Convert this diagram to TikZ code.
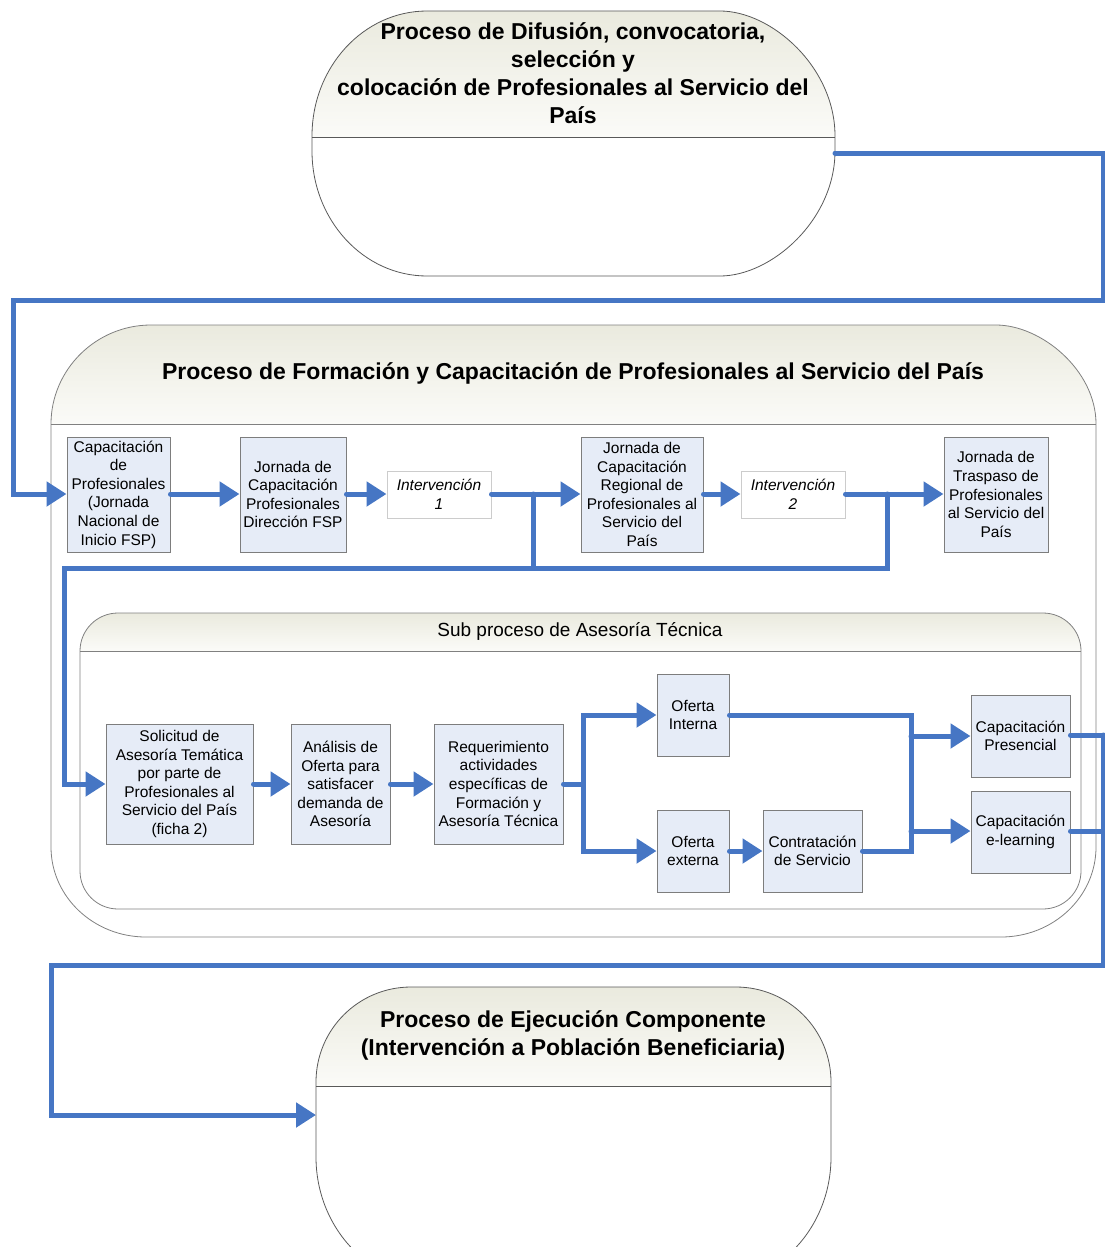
\documentclass[tikz,border=0pt]{standalone}
\usepackage{fontspec}
\setmainfont{Liberation Sans}
\usetikzlibrary{arrows.meta}
\definecolor{flow}{RGB}{70,118,196}
\definecolor{boxfill}{RGB}{230,236,247}
\definecolor{boxline}{RGB}{125,125,125}
\definecolor{headtop}{RGB}{234,234,222}
\definecolor{headbot}{RGB}{251,251,248}
\tikzset{
 conn/.style={draw=flow, line width=5pt, line cap=round, line join=miter},
 arr/.style={conn, -{Triangle[length=20pt,width=24pt]}},
 procbox/.style={draw=boxline, fill=boxfill, line width=1pt, align=center, inner sep=0pt, font=\fontsize{15.5}{18.6}\selectfont},
 intbox/.style={draw=gray!40, fill=white, line width=1pt, align=center, inner sep=0pt, minimum width=104pt, minimum height=47pt, font=\fontsize{15.5}{18.6}\selectfont\itshape},
 bigtitle/.style={align=center, font=\fontsize{23}{28}\selectfont\bfseries},
 subtitle/.style={font=\fontsize{19}{22}\selectfont},
 shapeline/.style={draw=black!65, line width=0.8pt},
 contline/.style={draw=black!50, line width=0.8pt},
 headshade/.style={top color=headtop, bottom color=headbot},
}
\begin{document}
\begin{tikzpicture}[x=1pt,y=-1pt]
\useasboundingbox (0,0) rectangle (1105,1247);
% ---------- top process shape ----------
\path[headshade] (312,137) -- (312,136) .. controls (312,67) and (363.5,11) .. (427,11) -- (720,11) .. controls (771.5,11) and (835,67) .. (835,136) -- (835,137) -- cycle;
\draw[shapeline] (312,136) .. controls (312,67) and (363.5,11) .. (427,11) -- (720,11) .. controls (771.5,11) and (835,67) .. (835,136) -- (835,151) .. controls (835,220) and (771.5,276) .. (720,276) -- (427,276) .. controls (363.5,276) and (312,220) .. (312,151) -- cycle;
\draw[shapeline] (312,137) -- (835,137);
\node[bigtitle] (toptitle) at (573,73) {Proceso de Difusión, convocatoria,\\selección y\\colocación de Profesionales al Servicio del\\País};
\coordinate (topout) at (835,153);
% ---------- big container ----------
\path[headshade] (51,424) .. controls (51,369.8) and (95.8,325) .. (151,325) -- (996,325) .. controls (1040.8,325) and (1096,369.8) .. (1096,424) -- cycle;
\draw[contline] (51,424) .. controls (51,369.8) and (95.8,325) .. (151,325) -- (996,325) .. controls (1040.8,325) and (1096,369.8) .. (1096,424) -- (1096,847) .. controls (1096,896.7) and (1053.5,937) .. (1001,937) -- (146,937) .. controls (93.5,937) and (51,896.7) .. (51,847) -- cycle;
\draw[contline] (51,424) -- (1096,424);
\node[bigtitle] (formtitle) at (573,373) {Proceso de Formación y Capacitación de Profesionales al Servicio del País};
% ---------- sub container ----------
\path[headshade] (80,651) .. controls (80,630) and (97,613) .. (118,613) -- (1043,613) .. controls (1064,613) and (1081,630) .. (1081,651) -- cycle;
\draw[contline] (80,651) .. controls (80,630) and (97,613) .. (118,613) -- (1043,613) .. controls (1064,613) and (1081,630) .. (1081,651) -- (1081,871) .. controls (1081,892) and (1064,909) .. (1043,909) -- (118,909) .. controls (97,909) and (80,892) .. (80,871) -- cycle;
\draw[contline] (80,651) -- (1081,651);
\node[subtitle] (subtitle) at (580,631) {Sub proceso de Asesoría Técnica};
% ---------- bottom process shape ----------
\path[headshade] (316,1086) -- (316,1082) .. controls (316,1029.5) and (358.5,987) .. (411,987) -- (736,987) .. controls (788.5,987) and (831,1029.5) .. (831,1082) -- (831,1086) -- cycle;
\draw[shapeline] (316,1082) .. controls (316,1029.5) and (358.5,987) .. (411,987) -- (736,987) .. controls (788.5,987) and (831,1029.5) .. (831,1082) -- (831,1157) .. controls (831,1227.7) and (777.3,1285) .. (711,1285) -- (436,1285) .. controls (369.7,1285) and (316,1227.7) .. (316,1157) -- cycle;
\draw[shapeline] (316,1086) -- (831,1086);
\node[bigtitle] (bottitle) at (573,1035) {Proceso de Ejecución Componente\\(Intervención a Población Beneficiaria)};
\coordinate (botin) at (316,1115);
% ---------- row 1 boxes ----------
\node[procbox, minimum width=103pt, minimum height=115pt] (b1) at (118.5,494.5) {Capacitación\\de\\Profesionales\\(Jornada\\Nacional de\\Inicio FSP)};
\node[procbox, minimum width=106pt, minimum height=115pt] (b2) at (293,494.5) {Jornada de\\Capacitación\\Profesionales\\Dirección FSP};
\node[intbox] (i1) at (439,494.5) {Intervención\\1};
\node[procbox, minimum width=122pt, minimum height=115pt] (b3) at (642,494.5) {Jornada de\\Capacitación\\Regional de\\Profesionales al\\Servicio del\\País};
\node[intbox] (i2) at (793,494.5) {Intervención\\2};
\node[procbox, minimum width=104pt, minimum height=115pt] (b4) at (996,494.5) {Jornada de\\Traspaso de\\Profesionales\\al Servicio del\\País};
% ---------- row 2 boxes ----------
\node[procbox, minimum width=147pt, minimum height=120pt] (s1) at (179.5,784) {Solicitud de\\Asesoría Temática\\por parte de\\Profesionales al\\Servicio del País\\(ficha 2)};
\node[procbox, minimum width=99pt, minimum height=120pt] (s2) at (340.5,784) {Análisis de\\Oferta para\\satisfacer\\demanda de\\Asesoría};
\node[procbox, minimum width=129pt, minimum height=120pt] (s3) at (498.5,784) {Requerimiento\\actividades\\específicas de\\Formación y\\Asesoría Técnica};
\node[procbox, minimum width=72pt, minimum height=82pt] (oi) at (693,715) {Oferta\\Interna};
\node[procbox, minimum width=72pt, minimum height=82pt] (oe) at (693,851) {Oferta\\externa};
\node[procbox, minimum width=99pt, minimum height=82pt] (cs) at (812.5,851) {Contratación\\de Servicio};
\node[procbox, minimum width=99pt, minimum height=82pt] (cp) at (1020.5,736) {Capacitación\\Presencial};
\node[procbox, minimum width=99pt, minimum height=82pt] (ce) at (1020.5,832) {Capacitación\\e-learning};
% ---------- junction coordinates ----------
\coordinate (j1) at (533,494);
\coordinate (j2) at (887,494);
\coordinate (j3) at (583,784);
\coordinate (j4) at (911,736);
\coordinate (j5) at (911,831);
\coordinate (j6) at (1103,735);
% ---------- connectors ----------
\draw[arr] (topout) -- (1103,153) -- (1103,300) -- (13,300) -- (13,494) -- (b1.west |- 0,494);
\draw[arr] (b1.east |- 0,494) -- (b2.west |- 0,494);
\draw[arr] (b2.east |- 0,494) -- (i1.west |- 0,494);
\draw[arr] (i1.east |- 0,494) -- (b3.west |- 0,494);
\draw[conn] (j1) -- (533,568);
\draw[arr] (b3.east |- 0,494) -- (i2.west |- 0,494);
\draw[arr] (i2.east |- 0,494) -- (b4.west |- 0,494);
\draw[arr] (j2) -- (887,568) -- (64,568) -- (64,784) -- (s1.west);
\draw[arr] (s1.east) -- (s2.west);
\draw[arr] (s2.east) -- (s3.west);
\draw[conn] (s3.east) -- (j3);
\draw[arr] (j3) -- (583,715) -- (oi.west);
\draw[arr] (j3) -- (583,851) -- (oe.west);
\draw[arr] (oe.east) -- (cs.west);
\draw[conn] (oi.east) -- (911,715) -- (911,851) -- (cs.east);
\draw[arr] (j4) -- (cp.west |- j4);
\draw[arr] (j5) -- (ce.west |- j5);
\draw[conn] (cp.east |- j6) -- (j6);
\draw[conn] (ce.east |- 0,831) -- (1103,831);
\draw[arr] (j6) -- (1103,965) -- (51,965) -- (51,1115) -- (botin);
\end{tikzpicture}
\end{document}
